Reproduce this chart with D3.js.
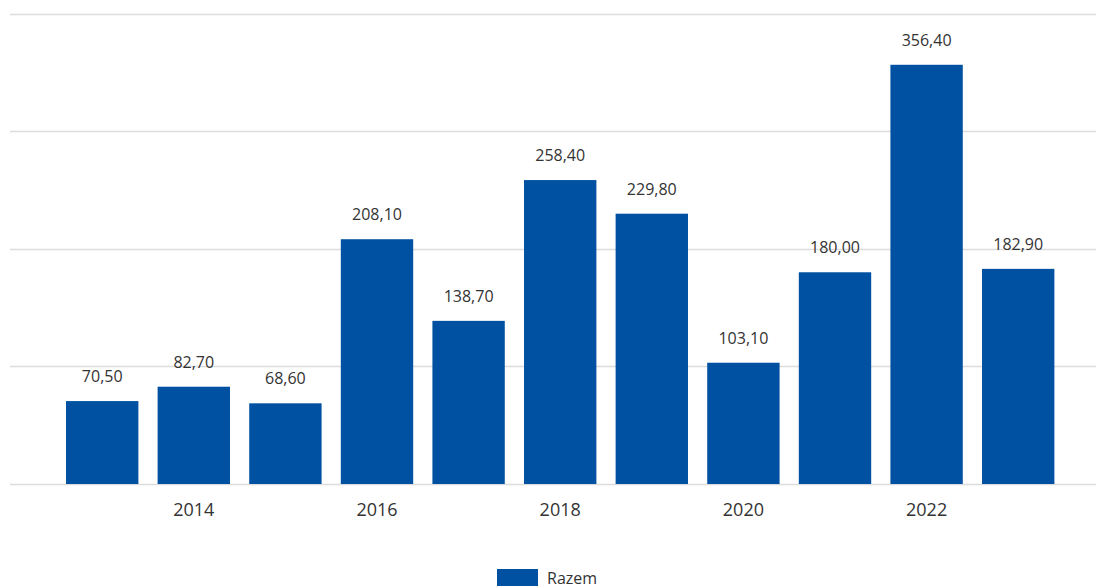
<!DOCTYPE html>
<html>
<head>
<meta charset="utf-8">
<script src="https://cdn.jsdelivr.net/npm/d3@7"></script>
<style>
  body { margin: 0; background: #fff; }
  svg { display: block; font-family: "Open Sans", "Noto Sans", sans-serif; }
</style>
</head>
<body>
<div id="chart"></div>
<script>
const years = [2013, 2014, 2015, 2016, 2017, 2018, 2019, 2020, 2021, 2022, 2023];
const values = [70.5, 82.7, 68.6, 208.1, 138.7, 258.4, 229.8, 103.1, 180.0, 356.4, 182.9];
const tickYears = [2014, 2016, 2018, 2020, 2022];
const gridValues = [0, 100, 200, 300, 400];
const seriesName = "Razem";

const width = 1096, height = 586;
const barColor = "#0051a1";

const svg = d3.select("#chart").append("svg")
  .attr("width", width)
  .attr("height", height);

const x = d3.scaleBand()
  .domain(years)
  .range([56.4, 1064])
  .paddingInner(0.21)
  .paddingOuter(0.105);

const y = d3.scaleLinear()
  .domain([0, 400])
  .range([484, 13.5]);

// gridlines
svg.append("g")
  .selectAll("line")
  .data(gridValues)
  .join("line")
  .attr("x1", 10)
  .attr("x2", width)
  .attr("y1", d => Math.round(y(d)) + 0.5)
  .attr("y2", d => Math.round(y(d)) + 0.5)
  .attr("stroke", "#dcdcdc")
  .attr("stroke-width", 1.5);

// bars
svg.append("g")
  .selectAll("rect")
  .data(values)
  .join("rect")
  .attr("x", (d, i) => x(years[i]))
  .attr("y", d => y(d))
  .attr("width", x.bandwidth())
  .attr("height", d => y(0) - y(d))
  .attr("fill", barColor);

// value labels
const fmt = d => d.toFixed(2).replace(".", ",");
svg.append("g")
  .selectAll("text")
  .data(values)
  .join("text")
  .attr("x", (d, i) => x(years[i]) + x.bandwidth() / 2)
  .attr("y", d => y(d) - 19)
  .attr("text-anchor", "middle")
  .attr("font-size", 16)
  .attr("fill", "#333")
  .text(fmt);

// x axis labels
const xAxis = d3.axisBottom(x).tickValues(tickYears).tickSize(0).tickPadding(0);
const gx = svg.append("g")
  .attr("transform", "translate(0,484)")
  .call(xAxis);
gx.select(".domain").remove();
gx.selectAll("text")
  .attr("y", 32)
  .attr("dy", null)
  .attr("font-size", 18)
  .attr("font-family", "\"Open Sans\", \"Noto Sans\", sans-serif")
  .attr("fill", "#333");

// legend
const legend = svg.append("g").attr("transform", "translate(497,569)");
legend.append("rect")
  .attr("width", 41)
  .attr("height", 20)
  .attr("fill", barColor);
legend.append("text")
  .attr("x", 50)
  .attr("y", 15)
  .attr("font-size", 16)
  .attr("fill", "#333")
  .text(seriesName);
</script>
</body>
</html>
